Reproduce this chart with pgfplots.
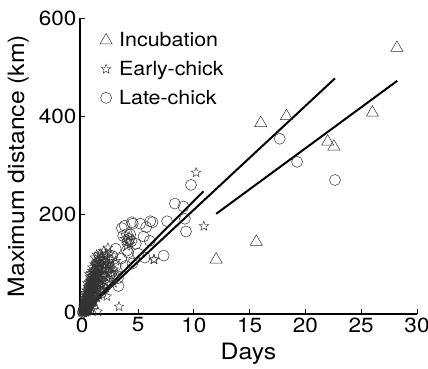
\documentclass[border=0pt]{standalone}
\usepackage{pgfplots}
\pgfplotsset{compat=1.18}
\usepackage{fontspec}
\setmainfont{TeX Gyre Heros}[FakeStretch=1.1]
\pgfdeclareplotmark{ostar}{%
  \pgfpathmoveto{\pgfpointpolar{90}{\pgfplotmarksize}}%
  \pgfpathlineto{\pgfpointpolar{126}{0.42\pgfplotmarksize}}%
  \pgfpathlineto{\pgfpointpolar{162}{\pgfplotmarksize}}%
  \pgfpathlineto{\pgfpointpolar{198}{0.42\pgfplotmarksize}}%
  \pgfpathlineto{\pgfpointpolar{234}{\pgfplotmarksize}}%
  \pgfpathlineto{\pgfpointpolar{270}{0.42\pgfplotmarksize}}%
  \pgfpathlineto{\pgfpointpolar{306}{\pgfplotmarksize}}%
  \pgfpathlineto{\pgfpointpolar{342}{0.42\pgfplotmarksize}}%
  \pgfpathlineto{\pgfpointpolar{18}{\pgfplotmarksize}}%
  \pgfpathlineto{\pgfpointpolar{54}{0.42\pgfplotmarksize}}%
  \pgfpathclose
  \pgfusepathqstroke
}
\begin{document}
\begin{tikzpicture}
\begin{axis}[
  at={(0,0)}, anchor=south west,
  scale only axis, width=337pt, height=296pt,
  xmin=-0.2, xmax=30, ymin=-3, ymax=600,
  axis x line=bottom, axis y line=left,
  axis line style={-, line width=1.3pt},
  xtick={0,5,...,30}, ytick={0,200,400,600},
  tick align=inside, major tick length=5pt,
  tick style={black, line width=1pt},
  /pgf/number format/assume math mode=true,
  ticklabel style={font=\fontsize{20.5}{24}\selectfont},
  xlabel={Days}, ylabel={Maximum distance (km)},
  label style={font=\fontsize{22.5}{27}\selectfont},
  xlabel style={yshift=-4pt},
  ylabel style={yshift=3pt},
  clip=false,
  legend style={draw=none, fill=none, at={(0.05,0.965)}, anchor=north west,
    font=\fontsize{19.5}{23}\selectfont, row sep=9pt,
    /tikz/every odd column/.append style={column sep=5pt}},
  legend cell align=left,
]
\addplot[only marks, mark=triangle, mark size=7pt, black!80, mark options={line width=0.5pt}] coordinates {
(0.2,3) (0.5,8) (0.9,15)
(12.0,108) (15.6,144) (16.0,386) (18.3,400) (22.0,348) (22.55,338) (26.0,407) (28.2,539)
};
\addlegendentry{Incubation}
\addplot[only marks, mark=ostar, mark size=5pt, black!80, mark options={line width=0.45pt}] coordinates {
(0.05,1) (0.08,3) (0.1,2) (0.12,5) (0.15,4) (0.18,8) (0.2,3) (0.22,10) (0.25,6) (0.28,12)
(0.3,7) (0.32,15) (0.35,9) (0.38,18) (0.4,11) (0.42,5) (0.45,14) (0.48,20) (0.5,8) (0.1,8)
(0.2,14) (0.3,20) (0.4,25) (0.15,0) (0.3,1) (0.45,2) (0.05,6) (0.25,18) (0.35,24) (0.5,28)
(0.55,12) (0.58,22) (0.6,30) (0.62,16) (0.65,35) (0.68,25) (0.7,40) (0.72,18) (0.75,45) (0.78,30)
(0.8,50) (0.82,22) (0.85,38) (0.88,55) (0.9,28) (0.92,42) (0.95,60) (0.98,35) (1.0,48) (0.6,8)
(0.7,12) (0.8,15) (0.9,20) (1.0,25) (0.65,48) (0.75,58) (0.85,65) (0.95,70) (0.55,40) (1.0,75)
(1.05,30) (1.08,55) (1.1,40) (1.12,65) (1.15,35) (1.18,80) (1.2,50) (1.22,70) (1.25,45) (1.28,85)
(1.3,60) (1.32,38) (1.35,75) (1.38,90) (1.4,55) (1.42,68) (1.45,95) (1.48,48) (1.5,80) (1.13,98)
(1.25,100) (1.4,105) (1.1,22) (1.3,30) (1.5,35) (1.55,60) (1.6,90) (1.65,70) (1.7,100) (1.75,55)
(1.8,85) (1.85,110) (1.9,65) (1.95,95) (2.0,75) (2.05,105) (2.1,50) (2.15,88) (2.2,115) (2.25,70)
(2.3,98) (2.4,80) (2.5,108) (2.6,92) (2.7,75) (2.3,132) (1.16,98) (2.6,108) (2.2,33) (1.4,2)
(3.3,12) (6.4,108) (6.45,108) (10.2,285) (10.9,176) (3.8,150) (4.1,146) (4.3,140) (4.0,135) (4.2,155)
(0.3,35) (0.45,40) (0.6,55) (0.2,28) (0.7,65) (1.6,120) (0.9,85) (1.9,125) (3.0,105) (2.8,60)
(0.4,45) (0.5,52) (0.6,62) (0.7,72) (0.8,80) (0.9,92) (1.05,88) (1.2,95) (1.35,102) (1.55,108)
(1.7,112) (1.9,105) (2.1,98) (0.35,30) (0.55,33) (0.75,52) (1.15,58) (1.35,62) (1.6,78) (1.85,72)
(2.0,90) (2.35,88) (2.45,95) (1.0,62) (1.25,78) (0.85,74) (0.65,78) (1.45,112) (1.75,118) (2.15,120)
(0.25,40) (0.45,60) (1.1,112) (1.55,92) (2.8,88) (3.1,80) (2.05,62) (1.65,45) (2.5,122) (1.3,118)
(0.12,12) (0.18,20) (0.22,25) (0.28,30) (0.33,3) (0.38,33) (0.42,37) (0.47,45) (0.52,18) (0.57,48)
(0.62,42) (0.67,56) (0.72,60) (0.77,38) (0.83,45) (0.87,60) (0.93,52) (0.97,65) (1.03,68) (1.07,45)
(1.12,75) (1.17,52) (1.23,62) (1.27,72) (1.33,82) (1.37,50) (1.43,78) (1.47,88) (1.52,70) (1.58,100)
(0.15,16) (0.27,22) (0.37,28) (0.47,33) (0.57,26) (0.67,30) (0.77,64) (0.87,47) (0.97,55) (1.07,80)
};
\addlegendentry{Early-chick}
\addplot[only marks, mark=o, mark size=5.5pt, black!80, mark options={line width=0.5pt}] coordinates {
(0.05,0) (0.1,2) (0.15,4) (0.2,5) (0.3,3) (0.4,10) (0.5,15) (0.6,6) (0.8,20) (1.0,30)
(1.2,45) (1.5,55) (1.7,40) (2.0,70) (2.3,60) (2.5,85) (2.8,75) (3.0,95) (3.2,70) (3.25,54)
(3.5,110) (3.55,172) (3.67,156) (3.8,177) (4.0,126) (4.1,146) (4.12,122) (4.3,159) (4.45,184) (4.53,181)
(5.2,181) (5.6,112) (5.73,174) (6.05,146) (6.1,186) (6.3,184) (7.3,116) (7.6,186) (8.3,222) (9.07,216)
(9.2,191) (9.3,165) (9.75,260) (17.7,354) (19.25,307) (22.65,270) (4.5,100) (5.0,120) (3.0,130) (2.7,115)
(3.9,95) (4.8,140) (5.5,155) (2.2,90) (1.8,75) (4.2,150) (4.0,160) (4.4,145)
};
\addlegendentry{Late-chick}
\addplot[black, line width=2pt, forget plot] coordinates {(0.2,2) (22.65,477)};
\addplot[black, line width=2pt, forget plot] coordinates {(0.2,4) (10.86,247)};
\addplot[black, line width=2pt, forget plot] coordinates {(12.0,201) (28.23,472)};
\end{axis}
\pgfresetboundingbox
\path (-80pt,-54pt) rectangle (348pt,314pt);
\end{tikzpicture}
\end{document}
